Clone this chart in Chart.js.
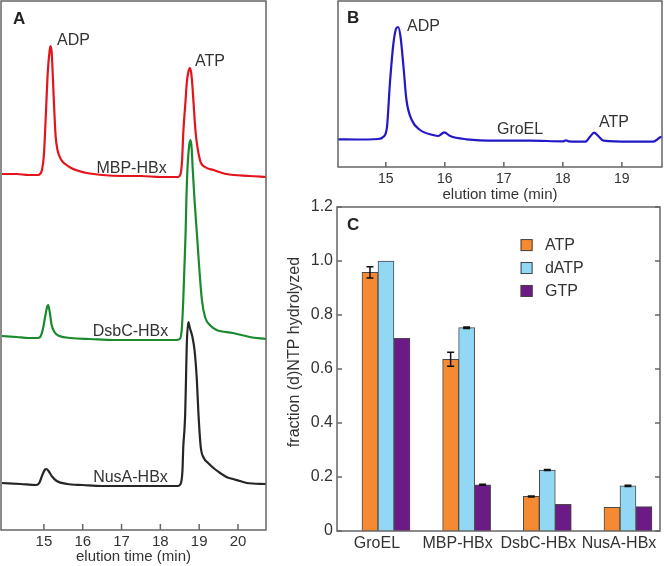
<!DOCTYPE html>
<html><head><meta charset="utf-8">
<script src="https://cdn.jsdelivr.net/npm/chart.js@4.4.1/dist/chart.umd.min.js"></script>
<style>
html,body{margin:0;padding:0;background:#fff;}
body{width:664px;height:566px;position:relative;overflow:hidden;}
canvas{position:absolute;display:block;}
</style></head><body>
<canvas id="cA" width="270" height="566" style="left:0;top:0"></canvas>
<canvas id="cB" width="384" height="205" style="left:280px;top:0"></canvas>
<canvas id="cC" width="384" height="371" style="left:280px;top:195px"></canvas>
<script>
// ---------- DATA ----------
// Panel A chromatograms: [elution time (min), signal (a.u., stacked)]
const mbpTrace = [[13.92,356],[14.3,356],[14.6,355],[14.85,355],[14.9,356],[14.95,360],[15.0,375],[15.05,415],[15.1,458],[15.15,480],[15.17,484],[15.2,478],[15.25,435],[15.3,395],[15.35,380],[15.45,370],[15.55,366],[15.7,362],[15.9,359],[16.1,357],[16.5,355],[17.0,354],[17.5,354],[18.0,353],[18.45,353],[18.52,356],[18.56,370],[18.59,397],[18.65,430],[18.68,447],[18.72,458],[18.76,462],[18.79,458],[18.82,447],[18.85,430],[18.91,397],[19.02,370],[19.15,363],[19.37,360],[19.7,356],[20.3,354],[20.72,353]];
const dsbcTrace = [[13.92,194],[14.3,193],[14.6,192],[14.85,192],[14.92,194],[14.98,202],[15.04,215],[15.09,224],[15.11,225],[15.15,218],[15.2,205],[15.27,198],[15.4,194],[15.7,192],[16.2,191],[16.8,190],[17.4,190],[18.0,190],[18.4,190],[18.5,191],[18.55,200],[18.59,230],[18.62,263],[18.65,297],[18.67,330],[18.7,363],[18.745,385],[18.78,390],[18.81,380],[18.83,363],[18.88,330],[18.94,297],[19.0,263],[19.07,230],[19.15,213],[19.3,204],[19.45,200],[19.87,197],[20.3,193],[20.72,191]];
const nusaTrace = [[13.92,47],[14.4,46],[14.8,45],[14.88,47],[14.95,54],[15.02,60],[15.06,61],[15.12,59],[15.2,54],[15.33,49],[15.6,46],[16.0,45],[16.5,44],[17.5,44],[18.45,44],[18.53,47],[18.57,60],[18.59,83],[18.62,100],[18.64,117],[18.66,150],[18.68,185],[18.72,208],[18.76,202],[18.82,194],[18.88,180],[18.94,150],[18.98,117],[19.04,83],[19.12,72],[19.23,67],[19.4,61],[19.54,57],[19.7,53],[19.87,51],[20.05,49],[20.23,47],[20.72,46]];
const ticksA = [15,16,17,18,19,20];

// Panel B chromatogram (GroEL)
const groelTrace = [[14.19,27.7],[14.5,27.5],[14.87,28],[14.96,30.3],[15.02,40],[15.07,84],[15.13,124],[15.18,139],[15.21,140],[15.25,130],[15.3,100],[15.35,67],[15.44,47],[15.58,37],[15.8,32],[15.89,31],[15.99,34.7],[16.09,31],[16.37,27.7],[16.88,26.3],[17.44,26.3],[18.01,25.7],[18.05,26.7],[18.1,25.7],[18.38,25.3],[18.46,30.3],[18.53,34.3],[18.6,31],[18.69,26.3],[19.14,25.3],[19.53,25.3],[19.65,29.7],[19.68,30.3]];
const ticksB = [15,16,17,18,19];

// Panel C bars
const categories = ['GroEL','MBP-HBx','DsbC-HBx','NusA-HBx'];
const atpVals  = [0.958, 0.636, 0.128, 0.088];
const atpErr   = [0.021, 0.026, 0.002, 0];
const datpVals = [1.000, 0.753, 0.226, 0.167];
const datpErr  = [0, 0.003, 0.002, 0.002];
const gtpVals  = [0.714, 0.171, 0.099, 0.090];
const gtpErr   = [0, 0.002, 0, 0];
const ticksC = [0,0.2,0.4,0.6,0.8,1.0,1.2];

// ---------- STYLE / PLUGINS ----------
const FONT = '"Liberation Sans", Arial, Helvetica, sans-serif';
Chart.defaults.font.family = FONT;
Chart.defaults.color = '#333';

const framePlugin = {
  id: 'frame',
  afterDraw(chart, args, o) {
    const {ctx, chartArea: a} = chart;
    ctx.save();
    ctx.strokeStyle = o.color || '#555';
    ctx.lineWidth = o.width || 1.5;
    ctx.strokeRect(a.left, a.top, a.right - a.left, a.bottom - a.top);
    const L = o.tickLen || 5;
    ctx.beginPath();
    if (o.xTicks) {
      const s = chart.scales.x;
      s.ticks.forEach(t => { const p = s.getPixelForValue(t.value); ctx.moveTo(p, a.bottom); ctx.lineTo(p, a.bottom - L); });
    }
    if (o.yTicks) {
      const s = chart.scales.y;
      s.ticks.forEach(t => { const p = s.getPixelForValue(t.value);
        ctx.moveTo(a.left, p); ctx.lineTo(a.left + L, p);
        ctx.moveTo(a.right, p); ctx.lineTo(a.right - L, p); });
    }
    ctx.stroke();
    ctx.restore();
  }
};

const notesPlugin = {
  id: 'notes',
  afterDraw(chart, args, o) {
    const {ctx} = chart; const x = chart.scales.x, y = chart.scales.y;
    (o.items || []).forEach(it => {
      ctx.save();
      ctx.font = (it.bold ? 'bold ' : '') + (it.size || 16) + 'px ' + FONT;
      ctx.fillStyle = it.color || '#333';
      ctx.textAlign = it.align || 'left';
      ctx.textBaseline = 'middle';
      ctx.translate(x.getPixelForValue(it.x), y.getPixelForValue(it.y));
      if (it.rot) ctx.rotate(it.rot * Math.PI / 180);
      ctx.fillText(it.text, 0, 0);
      ctx.restore();
    });
  }
};

const errPlugin = {
  id: 'errbars',
  afterDatasetsDraw(chart) {
    const {ctx} = chart; const y = chart.scales.y;
    ctx.save();
    ctx.strokeStyle = '#111'; ctx.lineWidth = 1.5;
    chart.data.datasets.forEach((ds, di) => {
      if (!ds.errors) return;
      const meta = chart.getDatasetMeta(di);
      meta.data.forEach((bar, i) => {
        const e = ds.errors[i]; if (!e) return;
        const v = ds.data[i].y;
        const y1 = y.getPixelForValue(v + e), y2 = y.getPixelForValue(v - e);
        ctx.beginPath();
        ctx.moveTo(bar.x, y1); ctx.lineTo(bar.x, y2);
        ctx.moveTo(bar.x - 3.5, y1); ctx.lineTo(bar.x + 3.5, y1);
        ctx.moveTo(bar.x - 3.5, y2); ctx.lineTo(bar.x + 3.5, y2);
        ctx.stroke();
      });
    });
    ctx.restore();
  }
};

const boxLegend = {
  id: 'boxLegend',
  afterDraw(chart, args, o) {
    const {ctx} = chart; const x = chart.scales.x, y = chart.scales.y;
    ctx.save();
    ctx.font = '16px ' + FONT; ctx.textBaseline = 'middle'; ctx.textAlign = 'left';
    chart.data.datasets.forEach((ds, i) => {
      const cy = y.getPixelForValue(o.y0 - i * o.dy);
      const bx = x.getPixelForValue(o.xBox);
      ctx.fillStyle = ds.backgroundColor;
      ctx.fillRect(bx, cy - 6, 12, 12);
      ctx.strokeStyle = '#444'; ctx.lineWidth = 1;
      ctx.strokeRect(bx + 0.5, cy - 5.5, 11, 11);
      ctx.fillStyle = '#333';
      ctx.fillText(ds.label, x.getPixelForValue(o.xText), cy + 1);
    });
    ctx.restore();
  }
};

const pts = arr => arr.map(p => ({x: p[0], y: p[1]}));
const lineDs = (label, arr, color) => ({
  label, data: pts(arr), borderColor: color, borderWidth: 2.2,
  pointRadius: 0, cubicInterpolationMode: 'monotone', fill: false
});

// ---------- PANEL A ----------
new Chart(document.getElementById('cA'), {
  type: 'line',
  data: { datasets: [
    lineDs('MBP-HBx', mbpTrace, '#E3141B'),
    lineDs('DsbC-HBx', dsbcTrace, '#1B8A2E'),
    lineDs('NusA-HBx', nusaTrace, '#262626')
  ]},
  options: {
    responsive: false, animation: false,
    layout: { padding: {left: 1, right: 4, top: 1, bottom: 0} },
    scales: {
      x: { type: 'linear', min: 13.895, max: 20.721,
        afterBuildTicks: s => { s.ticks = ticksA.map(v => ({value: v})); },
        afterFit: s => { s.height = 36; s.paddingLeft = 0; s.paddingRight = 0; },
        grid: {display: false, drawTicks: false}, border: {display: false},
        ticks: {font: {size: 15}, padding: 3, color: '#333', maxRotation: 0, autoSkip: false},
        title: {display: true, text: 'elution time (min)', font: {size: 15}, color: '#333', padding: {top: 0, bottom: 0}}
      },
      y: { display: false, min: 0, max: 529 }
    },
    plugins: {
      legend: {display: false}, tooltip: {enabled: false},
      frame: {xTicks: true, tickLen: 6, color: '#666', width: 1.5},
      notes: { items: [
        {text: 'A', x: 14.204, y: 511, bold: true, size: 17, color: '#222'},
        {text: 'ADP', x: 15.338, y: 489},
        {text: 'ATP', x: 18.893, y: 468},
        {text: 'MBP-HBx', x: 17.257, y: 361, align: 'center'},
        {text: 'DsbC-HBx', x: 17.231, y: 198, align: 'center'},
        {text: 'NusA-HBx', x: 17.231, y: 52, align: 'center'}
      ]}
    }
  },
  plugins: [framePlugin, notesPlugin]
});

// ---------- PANEL B ----------
new Chart(document.getElementById('cB'), {
  type: 'line',
  data: { datasets: [ lineDs('GroEL', groelTrace, '#2318C8') ] },
  options: {
    responsive: false, animation: false,
    layout: { padding: {left: 58, right: 2, top: 1, bottom: 0} },
    scales: {
      x: { type: 'linear', min: 14.19, max: 19.68,
        afterBuildTicks: s => { s.ticks = ticksB.map(v => ({value: v})); },
        afterFit: s => { s.height = 38; s.paddingLeft = 0; s.paddingRight = 0; },
        grid: {display: false, drawTicks: false}, border: {display: false},
        ticks: {font: {size: 14}, padding: 4, color: '#333', maxRotation: 0, autoSkip: false},
        title: {display: true, text: 'elution time (min)', font: {size: 15}, color: '#333', padding: {top: 0, bottom: 1}}
      },
      y: { display: false, min: 0, max: 166 }
    },
    plugins: {
      legend: {display: false}, tooltip: {enabled: false},
      frame: {xTicks: true, tickLen: 5, color: '#666', width: 1.5},
      notes: { items: [
        {text: 'B', x: 14.343, y: 149, bold: true, size: 17, color: '#222'},
        {text: 'ADP', x: 15.36, y: 140},
        {text: 'GroEL', x: 17.275, y: 37, align: 'center'},
        {text: 'ATP', x: 18.614, y: 44}
      ]}
    }
  },
  plugins: [framePlugin, notesPlugin]
});

// ---------- PANEL C ----------
const barDs = (label, vals, errs, color) => ({
  label, data: vals.map((v, i) => ({x: i, y: v})), errors: errs,
  backgroundColor: color, borderColor: '#4a4a4a', borderWidth: 1, barThickness: 16
});
new Chart(document.getElementById('cC'), {
  type: 'bar',
  data: { datasets: [
    barDs('ATP', atpVals, atpErr, '#F58A32'),
    barDs('dATP', datpVals, datpErr, '#92D8F4'),
    barDs('GTP', gtpVals, gtpErr, '#6B1A86')
  ]},
  options: {
    responsive: false, animation: false,
    layout: { padding: {left: 0, right: 4, top: 12, bottom: 0} },
    scales: {
      x: { type: 'linear', min: -0.607, max: 3.397, offset: false,
        afterBuildTicks: s => { s.ticks = categories.map((c, i) => ({value: i})); },
        afterFit: s => { s.height = 35; s.paddingLeft = 0; s.paddingRight = 0; },
        grid: {display: false, drawTicks: false}, border: {display: false},
        ticks: {font: {size: 16}, padding: 3, labelOffset: -9, color: '#333', maxRotation: 0, autoSkip: false,
          callback: v => categories[Math.round(v)]}
      },
      y: { min: 0, max: 1.2,
        afterBuildTicks: s => { s.ticks = ticksC.map(v => ({value: v})); },
        afterFit: s => { s.width = 57; s.paddingTop = 0; s.paddingBottom = 0; },
        grid: {display: false, drawTicks: false}, border: {display: false},
        ticks: {font: {size: 16}, padding: 4, color: '#333',
          callback: v => v === 0 ? '0' : Number(v).toFixed(1)}
      }
    },
    plugins: {
      legend: {display: false}, tooltip: {enabled: false},
      frame: {yTicks: true, tickLen: 5, color: '#666', width: 1.5},
      boxLegend: {xBox: 1.669, xText: 1.971, y0: 1.059, dy: 0.085},
      notes: { items: [
        {text: 'C', x: -0.483, y: 1.133, bold: true, size: 17, color: '#222'},
        {text: 'fraction (d)NTP hydrolyzed', x: -1.128, y: 0.663, rot: -90, align: 'center'}
      ]}
    }
  },
  plugins: [framePlugin, errPlugin, boxLegend, notesPlugin]
});
</script>
</body></html>
